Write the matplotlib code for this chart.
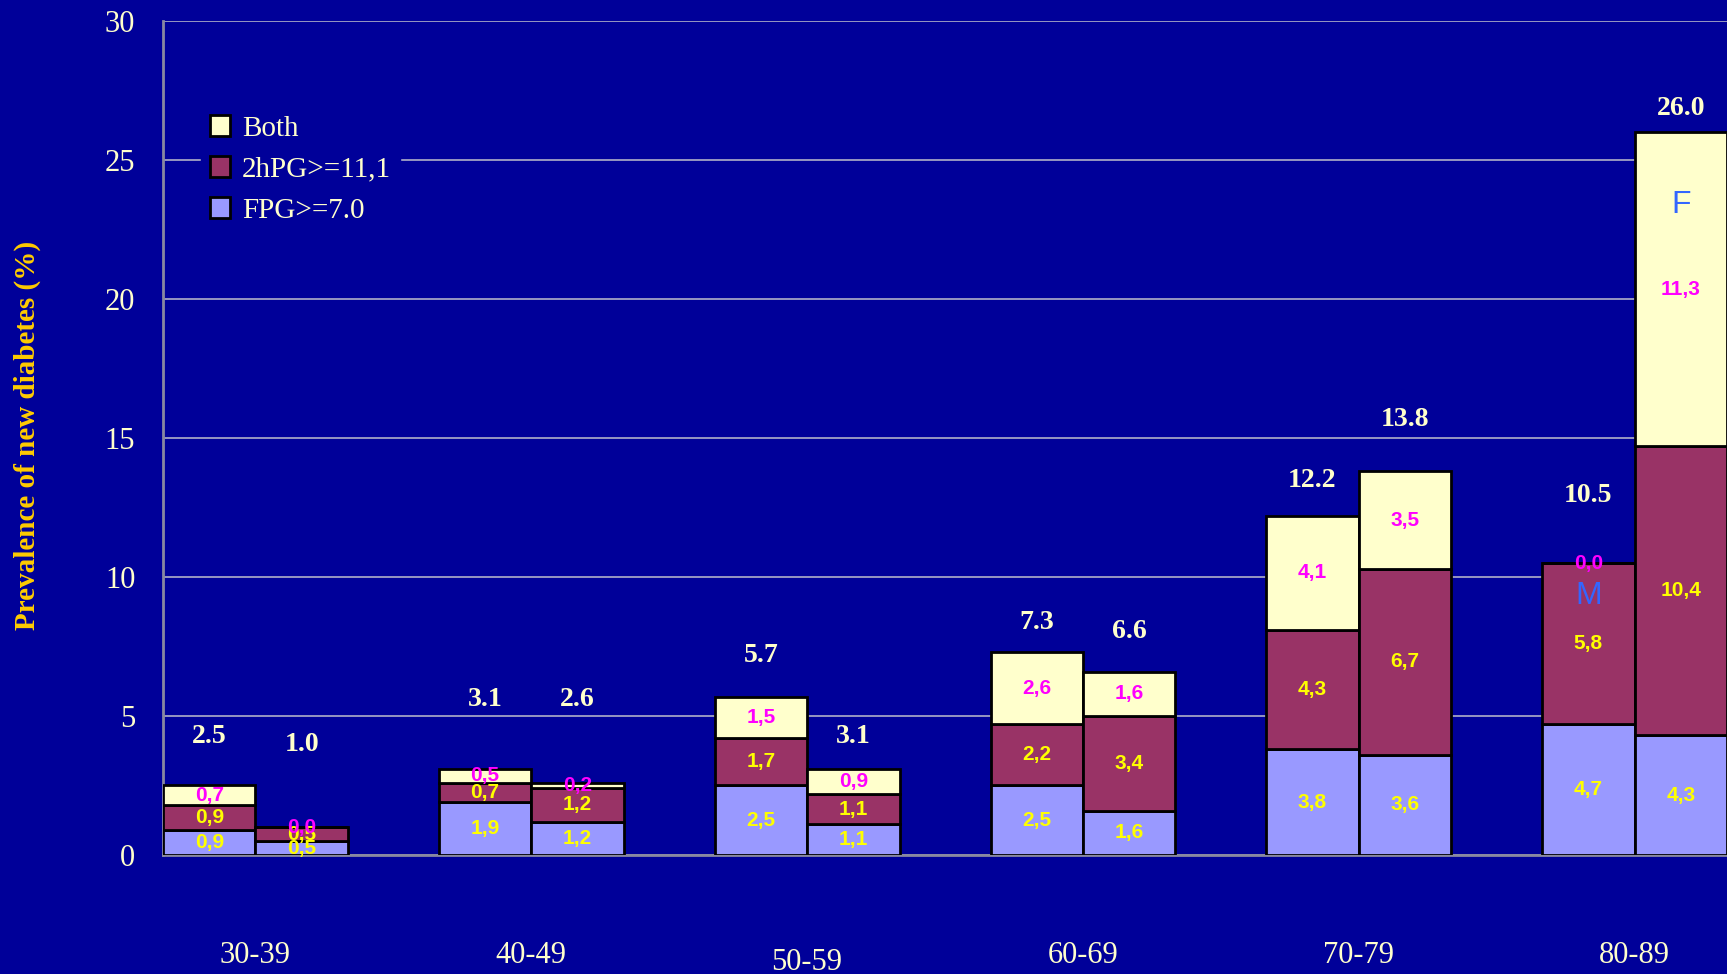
import numpy as np
import matplotlib
matplotlib.use('Agg')
import matplotlib.pyplot as plt
from matplotlib.patches import Patch

# data
groups = ['30-39', '40-49', '50-59', '60-69', '70-79', '80-89']
# men (left bar) and women (right bar) per age group
fpg_m = [0.9, 1.9, 2.5, 2.5, 3.8, 4.7]
h2_m = [0.9, 0.7, 1.7, 2.2, 4.3, 5.8]
both_m = [0.7, 0.5, 1.5, 2.6, 4.1, 0.0]
fpg_f = [0.5, 1.2, 1.1, 1.6, 3.6, 4.3]
h2_f = [0.5, 1.2, 1.1, 3.4, 6.7, 10.4]
both_f = [0.0, 0.2, 0.9, 1.6, 3.5, 11.3]
total_m = [2.5, 3.1, 5.7, 7.3, 12.2, 10.5]
total_f = [1.0, 2.6, 3.1, 6.6, 13.8, 26.0]
# height where the totals were written on the slide
total_m_y = [4.28, 5.59, 7.17, 8.36, 13.48, 12.92]
total_f_y = [3.96, 5.59, 4.28, 8.05, 15.66, 26.87]

navy = '#000099'
c_fpg, c_h2, c_both = '#9999FF', '#993366', '#FFFFCC'
txt = '#FFFFCC'

plt.rcParams['font.family'] = ['Liberation Serif', 'DejaVu Serif']

fig = plt.figure(figsize=(17.27, 9.74), dpi=100, facecolor=navy)
ax = fig.add_axes([0.0944, 0.1222, 0.9056, 0.8562], facecolor=navy)

x = np.arange(len(groups))
w = 0.335

def stack(xpos, fpg, h2, both):
    fpg, h2, both = map(np.array, (fpg, h2, both))
    kw = dict(width=w, edgecolor='black', linewidth=2, zorder=3)
    ax.bar(xpos, fpg, color=c_fpg, **kw)
    ax.bar(xpos, h2, bottom=fpg, color=c_h2, **kw)
    ax.bar(xpos, both, bottom=fpg + h2, color=c_both, **kw)
    for i in range(len(xpos)):
        segs = [(fpg[i], 0, '#FFFF00'), (h2[i], fpg[i], '#FFFF00'),
                (both[i], fpg[i] + h2[i], '#FF00FF')]
        for v, b, col in segs:
            ax.text(xpos[i], b + v / 2, f'{v:.1f}'.replace('.', ','),
                    ha='center', va='center', color=col, fontsize=15,
                    fontweight='bold', family='Liberation Sans', zorder=5)

stack(x - w / 2, fpg_m, h2_m, both_m)
stack(x + w / 2, fpg_f, h2_f, both_f)

for i in range(len(groups)):
    ax.text(x[i] - w / 2, total_m_y[i], f'{total_m[i]:.1f}', ha='center',
            va='center', color=txt, fontsize=20, fontweight='bold', zorder=5)
    ax.text(x[i] + w / 2, total_f_y[i], f'{total_f[i]:.1f}', ha='center',
            va='center', color=txt, fontsize=20, fontweight='bold', zorder=5)

ax.text(x[-1] - w / 2, 9.3, 'M', ha='center', va='center', color='#3366FF',
        fontsize=23, family='Liberation Sans', zorder=5)
ax.text(x[-1] + w / 2, 23.4, 'F', ha='center', va='center', color='#3366FF',
        fontsize=23, family='Liberation Sans', zorder=5)

ax.set_xlim(-w, len(groups) - 1 + w)
ax.set_ylim(0, 30)
ax.set_yticks(np.arange(0, 31, 5))
ax.set_xticks(x)
ax.set_xticklabels(groups)
ax.tick_params(axis='both', length=0, colors=txt, labelsize=22)
ax.tick_params(axis='y', pad=20)
ax.tick_params(axis='x', pad=62)
ax.get_xticklabels()[2].set_y(-0.008)
ax.yaxis.grid(True, color='#B0B0C8', linewidth=1.2)
ax.set_axisbelow(True)
for s in ['top', 'right']:
    ax.spines[s].set_visible(False)
ax.spines['left'].set_color('#8888A0')
ax.spines['left'].set_linewidth(2)
ax.spines['bottom'].set_color('#8888A0')
ax.spines['bottom'].set_linewidth(2)

fig.text(0.016, 0.553, 'Prevalence of new diabetes (%)', color='#FFCC00',
         fontsize=21, fontweight='bold', rotation=90, ha='center', va='center')

handles = [Patch(facecolor=c_both, edgecolor='black', linewidth=2, label='Both'),
           Patch(facecolor=c_h2, edgecolor='black', linewidth=2, label='2hPG>=11,1'),
           Patch(facecolor=c_fpg, edgecolor='black', linewidth=2, label='FPG>=7.0')]
leg = ax.legend(handles=handles, loc='upper left', bbox_to_anchor=(0.015, 0.915),
                frameon=True, facecolor=navy, edgecolor=navy, framealpha=1,
                fontsize=21, handlelength=0.7, handleheight=0.7,
                handletextpad=0.4, labelspacing=0.5, borderpad=0.3)
for t in leg.get_texts():
    t.set_color(txt)

fig.savefig('out.png', dpi=100, facecolor=navy)
